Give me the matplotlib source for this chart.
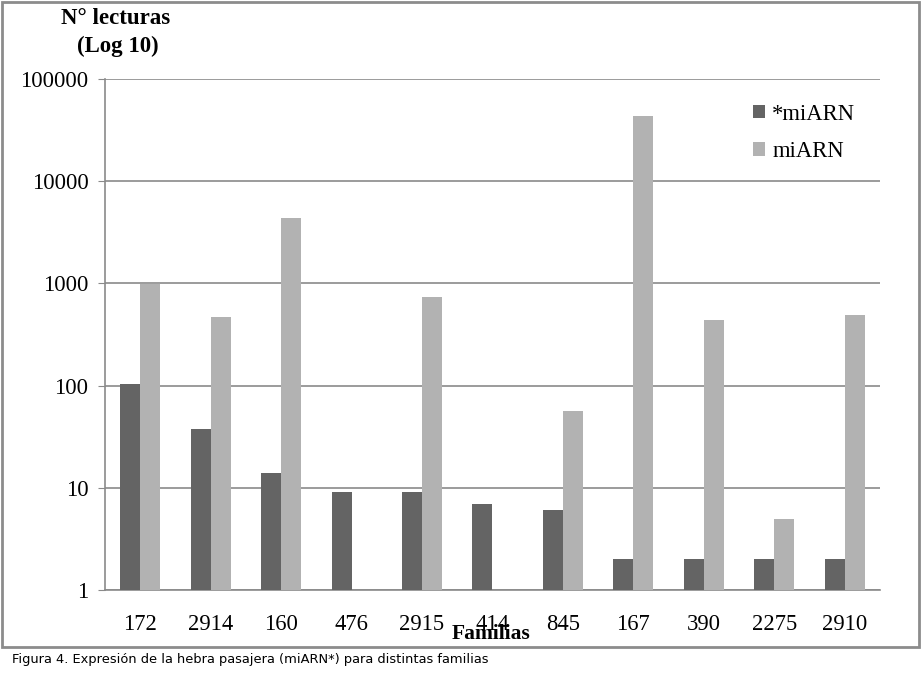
import numpy as np
import matplotlib
matplotlib.use("Agg")
from matplotlib import pyplot as plt
from matplotlib.patches import Rectangle

familias = ["172", "2914", "160", "476", "2915", "414", "845", "167", "390", "2275", "2910"]
star_mirna = [104, 38, 14, 9, 9, 7, 6, 2, 2, 2, 2]
mirna = [980, 470, 4400, 0, 740, 0, 57, 43500, 440, 5, 490]

dark = "#646464"
light = "#b2b2b2"
grid_col = "#8a8a8a"

plt.rcParams["font.family"] = ["Liberation Serif", "DejaVu Serif"]

fig = plt.figure(figsize=(9.22, 6.84), dpi=100)
ax = fig.add_axes([105/922, 1-590/684, 775/922, 511/684])

x = np.arange(len(familias))
w = 0.284
m1 = np.array(mirna, dtype=float)
m1[m1 <= 0] = np.nan
ax.bar(x - w/2, star_mirna, width=w, color=dark, label="*miARN", zorder=3)
ax.bar(x + w/2, m1, width=w, color=light, label="miARN", zorder=3)

ax.set_yscale("log")
ax.set_ylim(1, 100000)
ax.set_xlim(-0.5, len(familias) - 0.5)
ax.set_yticks([1, 10, 100, 1000, 10000, 100000])
ax.set_yticklabels(["1", "10", "100", "1000", "10000", "100000"])
ax.yaxis.set_minor_locator(matplotlib.ticker.NullLocator())
ax.set_xticks(x)
ax.set_xticklabels(familias)
ax.tick_params(axis="y", labelsize=16.3, length=5, color=grid_col, pad=7)
ax.tick_params(axis="x", labelsize=16.3, length=0, pad=17)
ax.grid(axis="y", color=grid_col, linewidth=1.2, zorder=0)

for s in ["top", "right"]:
    ax.spines[s].set_visible(False)
ax.spines["left"].set_color(grid_col)
ax.spines["bottom"].set_color(grid_col)
ax.spines["left"].set_linewidth(1.2)
ax.spines["bottom"].set_linewidth(1.2)

fig.text(116/922, 1-18/684, "N° lecturas", ha="center", va="center",
         fontsize=16.5, fontweight="bold")
fig.text(118/922, 1-46/684, "(Log 10)", ha="center", va="center",
         fontsize=16.5, fontweight="bold")
fig.text(491/922, 1-634/684, "Familias", ha="center", va="center",
         fontsize=15.5, fontweight="bold")

ax.legend(loc="upper left", bbox_to_anchor=(0.836, 0.952), frameon=False,
          fontsize=16.3, handlelength=0.55, handleheight=0.55, handletextpad=0.3,
          labelspacing=0.73, borderpad=0, borderaxespad=0)

fig.patches.append(Rectangle((2/922, 1-647/684), 917/922, 645/684,
                             transform=fig.transFigure, fill=False,
                             edgecolor="#8c8c8c", linewidth=2))

fig.text(12/922, 1-659/684,
         "Figura 4. Expresión de la hebra pasajera (miARN*) para distintas familias",
         ha="left", va="center", fontsize=9.4, family="DejaVu Sans")

fig.savefig("out.png", dpi=100)
